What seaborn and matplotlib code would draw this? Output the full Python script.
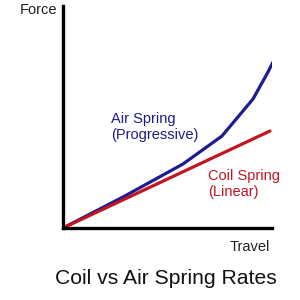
import matplotlib
matplotlib.use("Agg")
import matplotlib.pyplot as plt
import seaborn as sns
import pandas as pd

# Data (travel, force) in arbitrary units
air_travel = [0, 60, 120, 159, 190, 205, 210]
air_force = [0, 31, 64, 92, 129, 156, 166]
coil_travel = [0, 207]
coil_force = [0, 97]

series_names = ["Air Spring\n(Progressive)", "Coil Spring\n(Linear)"]
x_label = "Travel"
y_label = "Force"
title = "Coil vs Air Spring Rates"

sns.set_theme(style="white")
plt.rcParams['font.family'] = ['Liberation Sans', 'DejaVu Sans']

blue = "#1c1c8f"
red = "#c0161f"

df = pd.concat([
    pd.DataFrame({"travel": air_travel, "force": air_force, "series": series_names[0]}),
    pd.DataFrame({"travel": coil_travel, "force": coil_force, "series": series_names[1]}),
])

fig = plt.figure(figsize=(3, 3), dpi=100)
ax = fig.add_axes([63/300, 72/300, 209/300, 222/300])
sns.lineplot(data=df, x="travel", y="force", hue="series",
             palette=[blue, red], linewidth=2.3, legend=False, ax=ax, sort=False)
ax.set_xlim(0, 209)
ax.set_ylim(0, 222)
ax.set_xticks([])
ax.set_yticks([])
ax.set_xlabel("")
ax.set_ylabel("")
for s in ["top", "right"]:
    ax.spines[s].set_visible(False)
for s in ["left", "bottom"]:
    ax.spines[s].set_color("black")
    ax.spines[s].set_linewidth(2.4)

fig.text(57/300, 1 - 10/300, y_label, ha="right", va="center", fontsize=10.5, color="#222222")
fig.text(270/300, 1 - 247/300, x_label, ha="right", va="center", fontsize=10.5, color="#222222")
fig.text(166/300, 1 - 278/300, title, ha="center", va="center", fontsize=15.2, color="#111111")
fig.text(111/300, 1 - 127/300, series_names[0], ha="left", va="center", fontsize=10.5,
         color=blue, linespacing=1.15)
fig.text(208/300, 1 - 184/300, series_names[1], ha="left", va="center", fontsize=10.5,
         color=red, linespacing=1.15)

fig.savefig("out.png", dpi=100, facecolor="white")
